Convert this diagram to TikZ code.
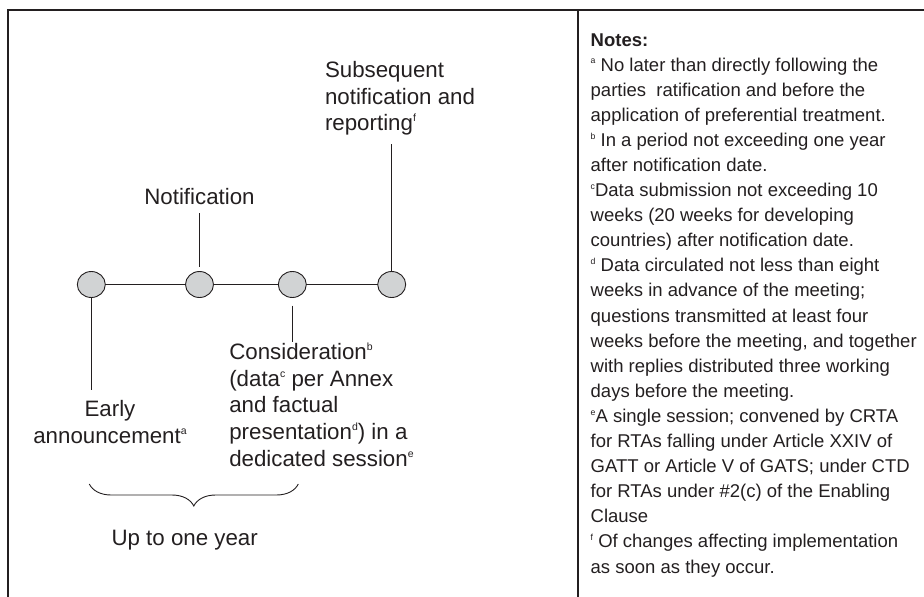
\documentclass[tikz,border=0pt]{standalone}
\usepackage{fontspec}
\usepackage{graphicx}
\setmainfont{Liberation Sans}
\usetikzlibrary{shapes.geometric,decorations.pathreplacing}
\definecolor{ink}{HTML}{231F20}
\definecolor{dotfill}{HTML}{D1D3D4}
\newcommand\mlines[1]{\begin{tabular}[t]{@{}l@{}}#1\end{tabular}}
\newcommand\clines[1]{\begin{tabular}[t]{@{}c@{}}#1\end{tabular}}
\newcommand\supmark[1]{\raisebox{0.4em}{\scalebox{0.47}{#1}}}
\begin{document}
\begin{tikzpicture}[x=1pt,y=-1pt,
  every node/.style={text=ink, inner sep=0pt, outer sep=0pt},
  stage/.style={ellipse, draw=ink, line width=0.9pt, fill=dotfill, minimum width=28pt, minimum height=26pt},
  link/.style={draw=ink, line width=0.9pt},
  frameline/.style={draw=ink, line width=1.1pt},
  lbl/.style={font=\fontsize{22.3}{26.7}\selectfont},
  note/.style={font=\fontsize{18.5}{25.1}\selectfont}]

\useasboundingbox (0,0) rectangle (924,597);

% frame
\coordinate (tl) at (8,10);
\coordinate (tr) at (924,10);
\coordinate (bl) at (8,597);
\coordinate (dt) at (578,10);
\coordinate (db) at (578,597);
\draw[frameline] (bl) -- (tl) -- (tr);
\draw[frameline] (dt) -- (db);

% stages
\node[stage] (c1) at (91.3,284.5) {};
\node[stage] (c2) at (199.5,284.5) {};
\node[stage] (c3) at (292.3,284.5) {};
\node[stage] (c4) at (391.7,284.5) {};
\draw[link] (c1) -- (c2);
\draw[link] (c2) -- (c3);
\draw[link] (c3) -- (c4);

% labels above
\node[lbl, anchor=base west] (sub) at (325,77.3)
  {\mlines{Subsequent\\notification and\\reporting\supmark{f}}};
\coordinate (rtop) at (391.7,144);
\draw[link] (rtop) -- (c4.north);

\node[lbl, anchor=base] (notif) at (199.5,204) {Notification};
\draw[link, shorten <=9pt, shorten >=5pt] (notif.south) -- (c2.north);

% labels below
\coordinate (ebot) at (91.3,390);
\draw[link] (c1.south) -- (ebot);
\node[lbl, anchor=base] (early) at (110,416.7)
  {\clines{Early\\announcement\supmark{a}}};

\coordinate (cbot) at (292.3,342);
\draw[link, shorten <=8pt] (c3.south) -- (cbot);
\node[lbl, anchor=base west] (cons) at (229.3,359.3)
  {\mlines{Consideration\supmark{b}\\(data\supmark{c} per Annex\\and factual\\presentation\supmark{d}) in a\\dedicated session\supmark{e}}};

% brace
\coordinate (bra) at (89.3,484);
\coordinate (brb) at (298.3,484);
\draw[link, decorate, decoration={brace, mirror, amplitude=22pt}] (bra) -- (brb);
\node[lbl, anchor=base] (span) at (184.7,545) {Up to one year};

% notes
\node[note, anchor=base west] (notes) at (590.7,46)
  {\mlines{\textbf{Notes:}\\
  \supmark{a} No later than directly following the\\
  parties\ \ ratification and before the\\
  application of preferential treatment.\\
  \supmark{b} In a period not exceeding one year\\
  after notification date.\\
  \supmark{c}Data submission not exceeding 10\\
  weeks (20 weeks for developing\\
  countries) after notification date.\\
  \supmark{d} Data circulated not less than eight\\
  weeks in advance of the meeting;\\
  questions transmitted at least four\\
  weeks before the meeting, and together\\
  with replies distributed three working\\
  days before the meeting.\\
  \supmark{e}A single session; convened by CRTA\\
  for RTAs falling under Article XXIV of\\
  GATT or Article V of GATS; under CTD\\
  for RTAs under \#2(c) of the Enabling\\
  Clause\\
  \supmark{f} Of changes affecting implementation\\
  as soon as they occur.}};
\end{tikzpicture}
\end{document}
